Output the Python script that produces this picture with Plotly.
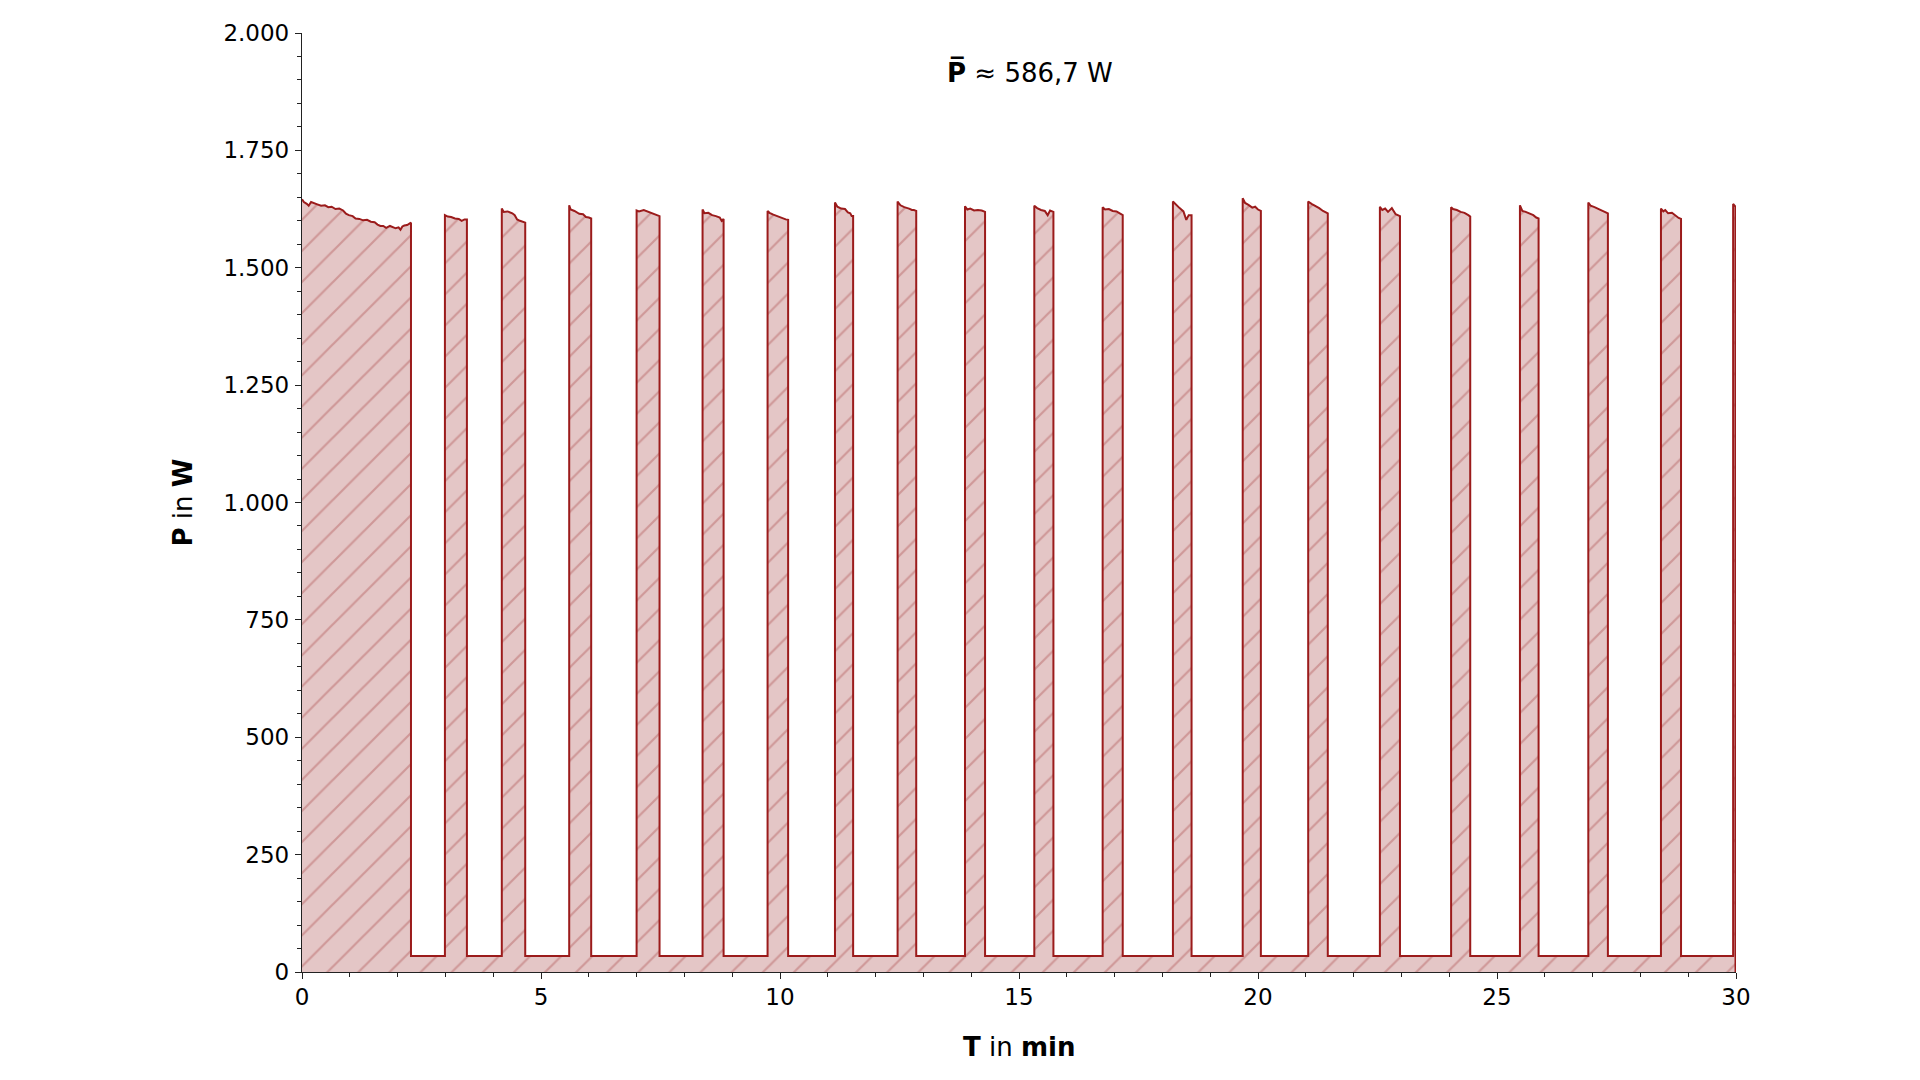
import plotly.graph_objects as go

# ---------------- data ----------------
off_level_w = 34  # standby power between pulses, W

# top profile of every "on" pulse: (time in min, power in W)
pulse_tops = [
    [(0.00, 1646), (0.04, 1640), (0.10, 1636), (0.14, 1632), (0.19, 1640), (0.25, 1637),
     (0.32, 1635), (0.40, 1632), (0.48, 1633), (0.55, 1629), (0.62, 1630), (0.70, 1625),
     (0.78, 1626), (0.86, 1622), (0.92, 1615), (0.98, 1612), (1.06, 1610), (1.12, 1605),
     (1.20, 1604), (1.28, 1601), (1.36, 1602), (1.44, 1598), (1.52, 1597), (1.58, 1592),
     (1.64, 1589), (1.70, 1589), (1.76, 1585), (1.84, 1589), (1.90, 1586), (1.96, 1584),
     (2.02, 1586), (2.06, 1581), (2.10, 1588), (2.14, 1590), (2.20, 1591), (2.26, 1594),
     (2.28, 1596)],
    [(2.99, 1612), (3.05, 1609), (3.12, 1608), (3.20, 1605), (3.28, 1604), (3.34, 1600),
     (3.40, 1603), (3.45, 1603)],
    [(4.18, 1626), (4.22, 1619), (4.30, 1620), (4.40, 1616), (4.45, 1612), (4.50, 1603),
     (4.56, 1600), (4.62, 1598), (4.67, 1596)],
    [(5.59, 1633), (5.62, 1624), (5.70, 1621), (5.80, 1615), (5.88, 1614), (5.94, 1608),
     (6.00, 1607), (6.05, 1605)],
    [(7.00, 1622), (7.05, 1620), (7.15, 1623), (7.25, 1619), (7.35, 1616), (7.42, 1613),
     (7.48, 1610)],
    [(8.38, 1624), (8.42, 1616), (8.50, 1617), (8.58, 1612), (8.66, 1610), (8.74, 1607),
     (8.78, 1600), (8.82, 1604)],
    [(9.74, 1621), (9.78, 1617), (9.86, 1613), (9.95, 1609), (10.05, 1605), (10.12, 1603),
     (10.17, 1602)],
    [(11.15, 1639), (11.20, 1630), (11.28, 1626), (11.36, 1625), (11.42, 1618), (11.47, 1616),
     (11.50, 1610), (11.53, 1610)],
    [(12.46, 1641), (12.52, 1633), (12.60, 1629), (12.70, 1626), (12.76, 1623), (12.80, 1623),
     (12.85, 1621)],
    [(13.87, 1631), (13.92, 1624), (13.98, 1626), (14.06, 1622), (14.14, 1623), (14.22, 1622),
     (14.29, 1619)],
    [(15.32, 1632), (15.38, 1627), (15.46, 1623), (15.54, 1621), (15.60, 1612), (15.65, 1622),
     (15.72, 1619)],
    [(16.75, 1629), (16.80, 1624), (16.88, 1625), (16.96, 1621), (17.04, 1620), (17.12, 1615),
     (17.17, 1612)],
    [(18.22, 1641), (18.28, 1634), (18.36, 1627), (18.44, 1620), (18.50, 1602), (18.55, 1612),
     (18.61, 1612)],
    [(19.68, 1648), (19.73, 1638), (19.80, 1634), (19.88, 1628), (19.94, 1630), (20.00, 1624),
     (20.06, 1621)],
    [(21.05, 1641), (21.12, 1636), (21.20, 1632), (21.28, 1627), (21.36, 1621), (21.46, 1616)],
    [(22.55, 1630), (22.60, 1623), (22.66, 1626), (22.72, 1619), (22.80, 1627), (22.88, 1614),
     (22.97, 1610)],
    [(24.04, 1629), (24.08, 1625), (24.16, 1623), (24.24, 1619), (24.32, 1617), (24.40, 1612),
     (24.44, 1609)],
    [(25.48, 1633), (25.53, 1621), (25.60, 1619), (25.68, 1615), (25.76, 1612), (25.82, 1607),
     (25.87, 1605)],
    [(26.91, 1639), (26.96, 1632), (27.04, 1629), (27.12, 1625), (27.20, 1622), (27.26, 1619),
     (27.32, 1616)],
    [(28.43, 1626), (28.48, 1620), (28.52, 1623), (28.58, 1616), (28.66, 1617), (28.74, 1610),
     (28.80, 1606), (28.85, 1604)],
    [(29.94, 1636), (29.99, 1630)],
]

mean_label = "586,7 W"

x_ticks = [0, 5, 10, 15, 20, 25, 30]
y_ticks = [0, 250, 500, 750, 1000, 1250, 1500, 1750, 2000]

# ---------------- build the step series ----------------
t_vals, p_vals = [], []
for i, top in enumerate(pulse_tops):
    t0 = top[0][0]
    if i > 0:
        t_vals.append(t0)
        p_vals.append(off_level_w)
    for t, p in top:
        t_vals.append(t)
        p_vals.append(p)
    t_end = top[-1][0]
    t_vals.append(t_end)
    p_vals.append(off_level_w if i < len(pulse_tops) - 1 else 0)

LINE = "#9b1b1b"
FILL_BG = "#e4c6c6"
HATCH = "#cf9898"
FONT = "DejaVu Sans"

fig = go.Figure()
fig.add_trace(go.Scatter(
    x=t_vals, y=p_vals, mode="lines",
    line=dict(color=LINE, width=2.0, shape="linear"),
    fill="tozeroy",
    fillpattern=dict(shape="/", size=22, solidity=0.1,
                     fgcolor=HATCH, bgcolor=FILL_BG, fillmode="replace"),
    hoverinfo="skip", showlegend=False,
))

axis_common = dict(
    showgrid=False, zeroline=False, showline=True, linecolor="#222222", linewidth=1.3,
    ticks="outside", ticklen=6, tickwidth=1.3, tickcolor="#222222",
    tickfont=dict(family=FONT, size=23, color="#000000"),
    minor=dict(ticks="outside", ticklen=3.5, tickwidth=1.1, tickcolor="#222222", showgrid=False),
    mirror=False,
)

fig.update_xaxes(range=[0, 30], tickvals=x_ticks, minor_dtick=1, ticklabelstandoff=-2,
                 **axis_common)
fig.update_yaxes(range=[0, 2000], tickvals=y_ticks, tickformat=",d", minor_dtick=50,
                 ticklabelstandoff=1, **axis_common)

fig.update_layout(
    width=1920, height=1080,
    margin=dict(l=294, r=192, t=21, b=116, pad=0),
    plot_bgcolor="white", paper_bgcolor="white",
    separators=",.",
    font=dict(family=FONT, color="#000000"),
    annotations=[
        dict(text="<b>P̅</b> ≈ " + mean_label, x=15.23, y=1917, xref="x", yref="y",
             showarrow=False, font=dict(family=FONT, size=26, color="#000000"),
             xanchor="center", yanchor="middle"),
        dict(text="<b>T</b> in <b>min</b>", x=0.5, y=0, xref="paper", yref="paper",
             yshift=-75, showarrow=False, xanchor="center", yanchor="middle",
             font=dict(family=FONT, size=26, color="#000000")),
        dict(text="<b>P</b> in <b>W</b>", x=0, y=0.5, xref="paper", yref="paper",
             xshift=-120, textangle=-90, showarrow=False, xanchor="center", yanchor="middle",
             font=dict(family=FONT, size=26, color="#000000")),
    ],
)

fig.write_html("out.html")
